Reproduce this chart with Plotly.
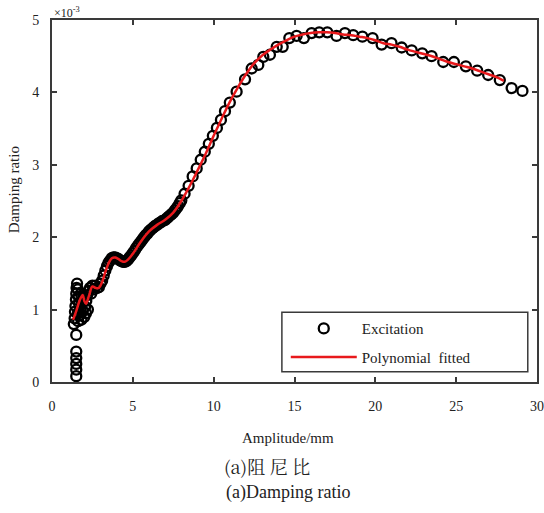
import plotly.graph_objects as go

# Experimental (excitation) data: amplitude (mm) and damping ratio (x1e-3)
exc_amp = [1.5, 1.5, 1.5, 1.5, 1.5, 1.5,
           1.35, 1.4, 1.42, 1.45, 1.48, 1.5, 1.52, 1.55, 1.6, 1.6, 1.62, 1.65, 1.68, 1.7,
           1.75, 1.78, 1.82, 1.85, 1.9, 1.95, 2.0, 2.05, 2.1, 2.12, 2.18, 2.22, 2.28, 2.35,
           2.42, 2.5, 2.6, 2.7, 2.8, 2.9, 3.0,
           3.1, 3.2, 3.3, 3.4, 3.5, 3.6, 3.7, 3.8, 3.9, 4.0, 4.1, 4.2, 4.3, 4.4, 4.5, 4.6,
           4.7, 4.8, 4.9, 5.0, 5.1, 5.2, 5.3, 5.4, 5.5, 5.6, 5.7, 5.8, 5.9, 6.0, 6.1, 6.2,
           6.3, 6.4, 6.5, 6.6, 6.7, 6.8, 6.9, 7.0, 7.1, 7.2, 7.3, 7.4, 7.5, 7.6, 7.7, 7.8,
           7.9, 8.0,
           8.2, 8.45, 8.7, 8.95, 9.2, 9.45, 9.7, 9.95, 10.2, 10.45, 10.7, 11.0, 11.42, 11.94,
           12.35, 12.76, 13.07, 13.48, 13.9, 14.27, 14.68, 15.13, 15.58, 16.06, 16.53, 17.03,
           17.6, 18.12, 18.63, 19.2, 19.83, 20.39, 21.0, 21.63, 22.25, 22.9, 23.48, 24.2,
           24.86, 25.6, 26.3, 26.98, 27.7, 28.43, 29.1]
exc_damp = [0.08, 0.17, 0.25, 0.33, 0.42, 0.65,
            0.80, 0.88, 0.97, 1.05, 1.14, 1.22, 1.30, 1.36, 1.28, 0.95, 0.84, 1.18, 1.08, 0.92,
            1.00, 1.22, 0.86, 1.12, 0.98, 1.18, 0.90, 1.04, 0.95, 1.12, 1.20, 1.00, 1.26, 1.30,
            1.22, 1.33, 1.28, 1.33, 1.30, 1.31, 1.36,
            1.40, 1.47, 1.54, 1.60, 1.65, 1.68, 1.71, 1.72, 1.72, 1.71, 1.70, 1.68, 1.67, 1.66,
            1.66, 1.67, 1.69, 1.72, 1.75, 1.78, 1.81, 1.85, 1.88, 1.91, 1.94, 1.97, 2.00, 2.03,
            2.05, 2.08, 2.10, 2.12, 2.14, 2.16, 2.17, 2.19, 2.20, 2.22, 2.23, 2.24, 2.26, 2.28,
            2.30, 2.32, 2.34, 2.37, 2.40, 2.43, 2.47, 2.51,
            2.60, 2.71, 2.84, 2.95, 3.07, 3.18, 3.29, 3.40, 3.51, 3.62, 3.74, 3.86, 4.01, 4.18,
            4.33, 4.38, 4.49, 4.52, 4.63, 4.63, 4.75, 4.78, 4.75, 4.82, 4.83, 4.83,
            4.78, 4.82, 4.79, 4.77, 4.75, 4.66, 4.68, 4.62, 4.58, 4.54, 4.50, 4.42,
            4.42, 4.36, 4.30, 4.24, 4.17, 4.06, 4.02]

# Polynomial fitted curve
fit_amp = [1.3, 1.5, 1.7, 1.9, 2.0, 2.1, 2.3, 2.5, 2.7, 2.9, 3.1, 3.3, 3.5, 3.7, 3.9, 4.1,
           4.3, 4.5, 4.7, 5.0, 5.5, 6.0, 6.5, 7.0, 7.5, 8.0, 8.5, 9.0, 9.5, 10.0, 10.5, 11.0,
           11.5, 12.0, 12.5, 13.0, 13.5, 14.0, 14.5, 15.0, 15.5, 16.0, 16.5, 17.0, 17.5, 18.0,
           18.5, 19.0, 19.5, 20.0, 20.5, 21.0, 21.5, 22.0, 22.5, 23.0, 23.5, 24.0, 24.5, 25.0,
           25.5, 26.0, 26.5, 27.0, 27.5, 27.95]
fit_damp = [0.86, 0.98, 1.12, 1.20, 1.12, 1.08, 1.20, 1.32, 1.30, 1.30, 1.38, 1.52, 1.64,
            1.71, 1.72, 1.70, 1.67, 1.66, 1.69, 1.77, 1.94, 2.08, 2.17, 2.24, 2.34, 2.50,
            2.70, 2.92, 3.15, 3.40, 3.64, 3.87, 4.07, 4.25, 4.40, 4.51, 4.59, 4.66, 4.72,
            4.77, 4.80, 4.82, 4.83, 4.83, 4.82, 4.80, 4.79, 4.77, 4.75, 4.72, 4.68, 4.66,
            4.63, 4.59, 4.56, 4.53, 4.50, 4.46, 4.42, 4.39, 4.36, 4.33, 4.29, 4.25, 4.21, 4.16]

x_ticks = [0, 5, 10, 15, 20, 25, 30]
y_ticks = [0, 1, 2, 3, 4, 5]

SERIF = "Liberation Serif"
AXC = "#3a3a3a"

fig = go.Figure()
fig.add_trace(go.Scatter(
    x=exc_amp, y=exc_damp, mode="markers", name="Excitation", legendgroup="a",
    marker=dict(symbol="circle-open", size=10, color="black", line=dict(width=2.3, color="black")),
))
fig.add_trace(go.Scatter(
    x=fit_amp, y=fit_damp, mode="lines", name="Polynomial\u00a0 fitted", legendgroup="b",
    line=dict(color="#e8191c", width=2.5, shape="spline"),
))

axis_common = dict(
    showline=True, linecolor=AXC, linewidth=2, mirror="allticks",
    ticks="inside", ticklen=5, tickwidth=1.5, tickcolor=AXC,
    showgrid=False, zeroline=False, automargin=False,
    tickfont=dict(family=SERIF, size=14, color="#222"),
)
fig.update_xaxes(range=[0, 30], tickvals=x_ticks, ticklabelstandoff=10, **axis_common)
fig.update_yaxes(range=[0, 5], tickvals=y_ticks, ticklabelstandoff=8, **axis_common)

fig.update_layout(
    width=544, height=513,
    margin=dict(l=52, r=7, t=20, b=131),
    plot_bgcolor="white", paper_bgcolor="white",
    showlegend=True,
    legend=dict(
        x=0.482, y=0.193, xanchor="left", yanchor="top",
        bgcolor="rgba(0,0,0,0)", borderwidth=0,
        font=dict(family=SERIF, size=15, color="#222"),
        itemwidth=66, tracegroupgap=6,
    ),
    shapes=[dict(type="rect", xref="paper", yref="paper",
                 x0=0.474, x1=0.981, y0=0.028, y1=0.193,
                 line=dict(color=AXC, width=1.5), fillcolor="white", layer="below")],
    annotations=[
        dict(text="×10<sup>-3</sup>", xref="paper", yref="paper", x=0.0, y=1.0,
             xanchor="left", yanchor="bottom", showarrow=False,
             font=dict(family=SERIF, size=12, color="#222"), yshift=-2),
        dict(text="Damping ratio", xref="paper", yref="paper", x=0, y=0.53,
             xanchor="center", yanchor="middle", textangle=-90, showarrow=False,
             xshift=-38, font=dict(family=SERIF, size=15, color="#222")),
        dict(text="Amplitude/mm", xref="paper", yref="paper", x=0.487, y=0,
             xanchor="center", yanchor="middle", showarrow=False,
             yshift=-56, font=dict(family=SERIF, size=15, color="#222")),
        dict(text="(a)阻 尼 比", xref="paper", yref="paper", x=0.443, y=0,
             xanchor="center", yanchor="middle", showarrow=False,
             yshift=-84, font=dict(family="Noto Serif CJK SC, Noto Sans CJK SC", size=18, color="#222")),
        dict(text="(a)Damping ratio", xref="paper", yref="paper", x=0.487, y=0,
             xanchor="center", yanchor="middle", showarrow=False,
             yshift=-110, font=dict(family=SERIF, size=18, color="#222")),
    ],
)

fig.write_html("out.html")
